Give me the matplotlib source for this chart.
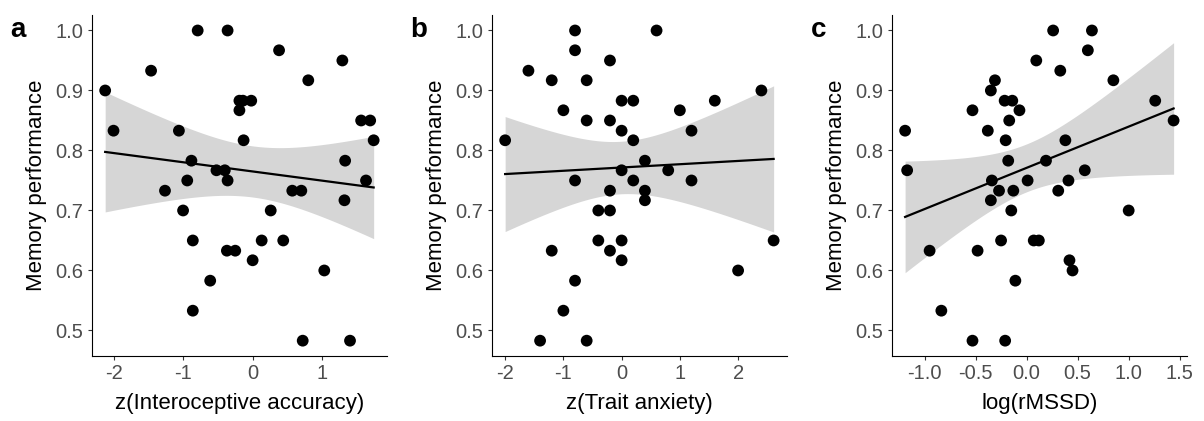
import numpy as np
import matplotlib
matplotlib.use("Agg")
import matplotlib.pyplot as plt
from matplotlib.ticker import FormatStrFormatter

plt.rcParams['font.family'] = ['Liberation Sans', 'DejaVu Sans']

# panel a: z(Interoceptive accuracy) vs memory performance
intero_x = [-2.12, -2.0, -1.46, -1.26, -1.06, -1.0, -0.94, -0.88, -0.86, -0.86,
            -0.79, -0.61, -0.52, -0.40, -0.36, -0.36, -0.37, -0.25, -0.19, -0.19,
            -0.14, -0.13, -0.02, 0.0, 0.13, 0.26, 0.38, 0.44, 0.57, 0.70,
            0.72, 0.80, 1.03, 1.29, 1.32, 1.33, 1.40, 1.56, 1.63, 1.69, 1.74]
intero_y = [0.900, 0.833, 0.933, 0.733, 0.833, 0.700, 0.750, 0.783, 0.650, 0.533,
            1.000, 0.583, 0.767, 0.767, 0.750, 1.000, 0.633, 0.633, 0.867, 0.883,
            0.883, 0.817, 0.883, 0.617, 0.650, 0.700, 0.967, 0.650, 0.733, 0.733,
            0.483, 0.917, 0.600, 0.950, 0.717, 0.783, 0.483, 0.850, 0.750, 0.850, 0.817]

# panel b: z(Trait anxiety)
anx_x = [-2.0, -1.6, -1.4, -1.2, -1.2, -1.0, -1.0, -0.8, -0.8, -0.8,
         -0.8, -0.6, -0.6, -0.6, -0.4, -0.4, -0.2, -0.2, -0.2, -0.2,
         -0.2, 0.0, 0.0, 0.0, 0.0, 0.0, 0.2, 0.2, 0.2, 0.4,
         0.4, 0.4, 0.6, 0.8, 1.0, 1.2, 1.2, 1.6, 2.0, 2.4, 2.61]
anx_y = [0.817, 0.933, 0.483, 0.917, 0.633, 0.867, 0.533, 1.000, 0.967, 0.750,
         0.583, 0.917, 0.850, 0.483, 0.700, 0.650, 0.950, 0.850, 0.733, 0.700,
         0.633, 0.883, 0.833, 0.767, 0.650, 0.617, 0.883, 0.817, 0.750, 0.783,
         0.733, 0.717, 1.000, 0.767, 0.867, 0.833, 0.750, 0.883, 0.600, 0.900, 0.650]

# panel c: log(rMSSD)
hrv_x = [-1.19, -1.17, -0.95, -0.835, -0.53, -0.53, -0.48, -0.38, -0.35, -0.35,
         -0.34, -0.31, -0.27, -0.25, -0.215, -0.205, -0.21, -0.18, -0.17, -0.14,
         -0.15, -0.13, -0.11, -0.07, 0.01, 0.07, 0.095, 0.12, 0.19, 0.26,
         0.31, 0.33, 0.38, 0.41, 0.42, 0.45, 0.57, 0.60, 0.64, 0.85,
         1.00, 1.26, 1.44]
hrv_y = [0.833, 0.767, 0.633, 0.533, 0.867, 0.483, 0.633, 0.833, 0.717, 0.900,
         0.750, 0.917, 0.733, 0.650, 0.883, 0.817, 0.483, 0.783, 0.850, 0.883,
         0.700, 0.733, 0.583, 0.867, 0.750, 0.650, 0.950, 0.650, 0.783, 1.000,
         0.733, 0.933, 0.817, 0.750, 0.617, 0.600, 0.767, 0.967, 1.000, 0.917,
         0.700, 0.883, 0.850]

panels = [
    ("a", intero_x, intero_y, "z(Interoceptive accuracy)", [-2, -1, 0, 1], "%d"),
    ("b", anx_x, anx_y, "z(Trait anxiety)", [-2, -1, 0, 1, 2], "%d"),
    ("c", hrv_x, hrv_y, "log(rMSSD)", [-1.0, -0.5, 0.0, 0.5, 1.0, 1.5], "%.1f"),
]

fig = plt.figure(figsize=(12.04, 4.21), dpi=100)
lefts = [0.0762, 0.4084, 0.7406]

for (letter, xs, ys, xlabel, xticks, fmt), left in zip(panels, lefts):
    ax = fig.add_axes([left, 0.1544, 0.2453, 0.81])
    x = np.array(xs)
    y = np.array(ys)

    # linear fit with 95% confidence band (like geom_smooth(method="lm"))
    n = len(x)
    slope, intercept = np.polyfit(x, y, 1)
    resid = y - (slope * x + intercept)
    s = np.sqrt(np.sum(resid ** 2) / (n - 2))
    xx = np.linspace(x.min(), x.max(), 100)
    yy = slope * xx + intercept
    se = s * np.sqrt(1.0 / n + (xx - x.mean()) ** 2 / np.sum((x - x.mean()) ** 2))
    tcrit = 2.02
    ax.fill_between(xx, yy - tcrit * se, yy + tcrit * se, color="#D6D6D6", lw=0, zorder=1)
    ax.plot(xx, yy, color="black", lw=1.6, zorder=2)
    ax.scatter(x, y, s=72, color="black", edgecolors="none", zorder=3)

    xr = x.max() - x.min()
    ax.set_xlim(x.min() - 0.05 * xr, x.max() + 0.05 * xr)
    ax.set_ylim(0.4833 - 0.05 * 0.5167, 1.0 + 0.05 * 0.5167)
    ax.set_xticks(xticks)
    ax.xaxis.set_major_formatter(FormatStrFormatter(fmt))
    ax.set_yticks([0.5, 0.6, 0.7, 0.8, 0.9, 1.0])
    ax.yaxis.set_major_formatter(FormatStrFormatter("%.1f"))

    for side in ["top", "right"]:
        ax.spines[side].set_visible(False)
    for side in ["left", "bottom"]:
        ax.spines[side].set_linewidth(0.8)
        ax.spines[side].set_color("black")
    ax.tick_params(length=3, width=0.8, color="#333333", labelsize=14.5,
                   labelcolor="#4D4D4D", pad=3)
    ax.set_xlabel(xlabel, fontsize=16, labelpad=7)
    ax.set_ylabel("Memory performance", fontsize=16, labelpad=6)

    ax.text(-0.275, 0.995, letter, transform=ax.transAxes, fontsize=20,
            fontweight="bold", va="top", ha="left")

fig.savefig("out.png", dpi=100)
